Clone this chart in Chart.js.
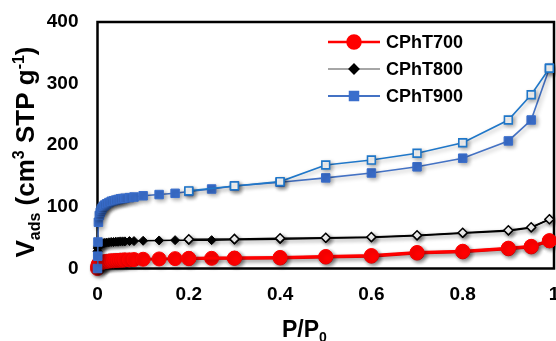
<!DOCTYPE html>
<html>
<head>
<meta charset="utf-8">
<script src="https://cdn.jsdelivr.net/npm/chart.js@4.4.0/dist/chart.umd.min.js"></script>
<style>
  html, body { margin: 0; padding: 0; background: #fff; }
  #wrap { width: 556px; height: 341px; position: relative; }
</style>
</head>
<body>
<div id="wrap"><canvas id="isoChart"></canvas></div>
<script>
// relative pressure P/P0, adsorption branch
const pAds = [0, 0.0005, 0.001, 0.002, 0.004, 0.006, 0.008, 0.01, 0.013, 0.016, 0.02, 0.025,
  0.03, 0.035, 0.04, 0.045, 0.05, 0.055, 0.06, 0.07, 0.08, 0.1, 0.135, 0.17, 0.2, 0.25,
  0.3, 0.4, 0.5, 0.6, 0.7, 0.8, 0.9, 0.95, 0.99];
// desorption branch
const pDes = [0.99, 0.95, 0.9, 0.8, 0.7, 0.6, 0.5, 0.4, 0.3, 0.2];

const v700Ads = [0, 3, 5, 7, 8.5, 9, 9.5, 10, 10.5, 11, 11.5, 12, 12.5, 12.5, 13, 13, 13.5, 13.5,
  14, 14, 14.5, 15, 15.5, 16, 16, 16.5, 16.5, 17, 18.5, 20, 25, 27, 32, 35, 45];
const v700Des = [45, 36, 33, 28, 26, 21, 19.5, 18, 17, 16.5];

const v800Ads = [28, 33, 35, 37, 38.5, 39.5, 40, 40.5, 41, 41.5, 42, 42.5, 43, 43, 43.5, 43.5,
  44, 44, 44, 44.5, 44.5, 45, 45.5, 46, 46, 46, 46.5, 47.5, 49, 50.5, 53, 57, 61, 66, 80];
const v800Des = [80, 67, 62, 58, 54, 51, 50, 49, 48, 47.5];

const v900Ads = [0, 20, 43, 75, 86, 91, 95, 98, 101, 103, 105, 107, 109, 110, 111, 112, 113, 113.5,
  114, 115, 116, 118, 120, 122, 125, 129, 134, 140, 147, 155, 165, 179, 207, 241, 325];
const v900Des = [325, 282, 241, 204, 187, 176, 168, 141, 134, 126];

const seriesNames = ['CPhT700', 'CPhT800', 'CPhT900'];
const xTickLabels = ['0', '0.2', '0.4', '0.6', '0.8', '1'];
const yTickLabels = ['0', '100', '200', '300', '400'];

const FONT = "'Liberation Sans', Arial, sans-serif";

function xy(p, v) {
  return p.map((x, i) => ({ x: x, y: v[i] }));
}

function drawRuns(ctx, runs, x, y, center) {
  let total = 0;
  runs.forEach(r => {
    ctx.font = 'bold ' + r.size + 'px ' + FONT;
    r.w = ctx.measureText(r.text).width;
    total += r.w;
  });
  let cx = center ? x - total / 2 : x;
  runs.forEach(r => {
    ctx.font = 'bold ' + r.size + 'px ' + FONT;
    ctx.fillText(r.text, cx, y + (r.dy || 0));
    cx += r.w;
  });
}

const shadowPlugin = {
  id: 'shadow',
  beforeDatasetDraw(chart) {
    const c = chart.ctx;
    c.save();
    c.shadowColor = 'rgba(0,0,0,0.3)';
    c.shadowBlur = 4;
    c.shadowOffsetX = 2;
    c.shadowOffsetY = 2;
  },
  afterDatasetDraw(chart) {
    chart.ctx.restore();
  }
};

const framePlugin = {
  id: 'frame',
  beforeDatasetsDraw(chart) {
    const { ctx, chartArea: a } = chart;
    ctx.save();
    ctx.strokeStyle = '#000';
    ctx.lineWidth = 2.5;
    ctx.strokeRect(a.left, a.top, a.right - a.left, a.bottom - a.top);
    ctx.restore();
  }
};

const textPlugin = {
  id: 'texts',
  afterDraw(chart) {
    const ctx = chart.ctx;
    ctx.save();
    ctx.fillStyle = '#000';
    ctx.textBaseline = 'alphabetic';
    ctx.textAlign = 'left';

    // y title
    ctx.save();
    ctx.translate(25, 152);
    ctx.rotate(-Math.PI / 2);
    drawRuns(ctx, [
      { text: 'V', size: 26 },
      { text: 'ads', size: 16, dy: 6 },
      { text: ' (cm', size: 26 },
      { text: '3', size: 16, dy: -10 },
      { text: ' STP g', size: 26 },
      { text: '-1', size: 16, dy: -10 },
      { text: ')', size: 26 }
    ], 0, 9, true);
    ctx.restore();

    // x title
    drawRuns(ctx, [
      { text: 'P/P', size: 23 },
      { text: '0', size: 14, dy: 5 }
    ], 282, 337, false);

    // legend
    const items = [
      { line: '#FF0000', lw: 2.5, style: 'circle', r: 6.5, fill: '#FF0000' },
      { line: '#A6A6A6', lw: 2, style: 'rectRot', r: 4.5, fill: '#000' },
      { line: '#4472C4', lw: 2, style: 'rect', r: 6, fill: '#3A6ECC' }
    ];
    const rows = [42, 69, 96];
    items.forEach((it, i) => {
      const y = rows[i];
      ctx.strokeStyle = it.line;
      ctx.lineWidth = it.lw;
      ctx.beginPath();
      ctx.moveTo(328, y);
      ctx.lineTo(380, y);
      ctx.stroke();
      ctx.fillStyle = it.fill;
      ctx.strokeStyle = it.fill;
      Chart.helpers.drawPoint(ctx, { pointStyle: it.style, radius: it.r, rotation: 0, borderWidth: 1 }, 354, y);
      ctx.fillStyle = '#000';
      ctx.font = 'bold 18px ' + FONT;
      ctx.textBaseline = 'middle';
      ctx.fillText(seriesNames[i], 386, y + 1);
      ctx.textBaseline = 'alphabetic';
    });
    ctx.restore();
  }
};

new Chart(document.getElementById('isoChart').getContext('2d'), {
  type: 'scatter',
  data: {
    datasets: [
      {
        label: 'CPhT900 des',
        data: xy(pDes, v900Des),
        showLine: true,
        borderColor: '#1F77C9',
        borderWidth: 1.6,
        pointStyle: 'rect',
        pointRadius: 5.5,
        pointBackgroundColor: '#fff',
        pointBorderColor: '#1F77C9',
        pointBorderWidth: 1.6,
        clip: false
      },
      {
        label: 'CPhT900',
        data: xy(pAds, v900Ads),
        showLine: true,
        borderColor: '#4472C4',
        borderWidth: 1.6,
        pointStyle: 'rect',
        pointRadius: 6,
        pointBackgroundColor: '#3A6ECC',
        pointBorderColor: '#3A6ECC',
        pointBorderWidth: 1,
        clip: false
      },
      {
        label: 'CPhT800 des',
        data: xy(pDes, v800Des),
        showLine: true,
        borderColor: '#000',
        borderWidth: 1.5,
        pointStyle: 'rectRot',
        pointRadius: 4.5,
        pointBackgroundColor: '#fff',
        pointBorderColor: '#000',
        pointBorderWidth: 1.5,
        clip: false
      },
      {
        label: 'CPhT800',
        data: xy(pAds, v800Ads),
        showLine: true,
        borderColor: '#000',
        borderWidth: 1.5,
        pointStyle: 'rectRot',
        pointRadius: 4.5,
        pointBackgroundColor: '#000',
        pointBorderColor: '#000',
        pointBorderWidth: 1,
        clip: false
      },
      {
        label: 'CPhT700 des',
        data: xy(pDes, v700Des),
        showLine: true,
        borderColor: '#FF0000',
        borderWidth: 3,
        pointStyle: 'circle',
        pointRadius: 7,
        pointBackgroundColor: '#FF0000',
        pointBorderColor: '#FF0000',
        pointBorderWidth: 1,
        clip: false
      },
      {
        label: 'CPhT700',
        data: xy(pAds, v700Ads),
        showLine: true,
        borderColor: '#FF0000',
        borderWidth: 3,
        pointStyle: 'circle',
        pointRadius: 7,
        pointBackgroundColor: '#FF0000',
        pointBorderColor: '#FF0000',
        pointBorderWidth: 1,
        clip: false
      }
    ]
  },
  options: {
    responsive: true,
    maintainAspectRatio: false,
    animation: false,
    layout: { autoPadding: false, padding: { top: 22, right: 2, left: 0, bottom: 0 } },
    plugins: {
      legend: { display: false },
      tooltip: { enabled: false }
    },
    scales: {
      x: {
        type: 'linear',
        min: 0,
        max: 1,
        grid: { display: false, drawTicks: false },
        border: { display: false },
        ticks: {
          stepSize: 0.2,
          padding: 15,
          color: '#000',
          font: { family: FONT, size: 19, weight: 'bold' },
          callback: (v, i) => xTickLabels[i]
        },
        afterFit: s => { s.height = 72.5; s.paddingLeft = 0; s.paddingRight = 0; }
      },
      y: {
        min: 0,
        max: 400,
        grid: { display: false, drawTicks: false },
        border: { display: false },
        ticks: {
          stepSize: 100,
          padding: 19,
          color: '#000',
          font: { family: FONT, size: 19, weight: 'bold' },
          callback: (v, i) => yTickLabels[i]
        },
        afterFit: s => { s.width = 97.5; s.paddingTop = 0; s.paddingBottom = 0; }
      }
    }
  },
  plugins: [shadowPlugin, framePlugin, textPlugin]
});
</script>
</body>
</html>
